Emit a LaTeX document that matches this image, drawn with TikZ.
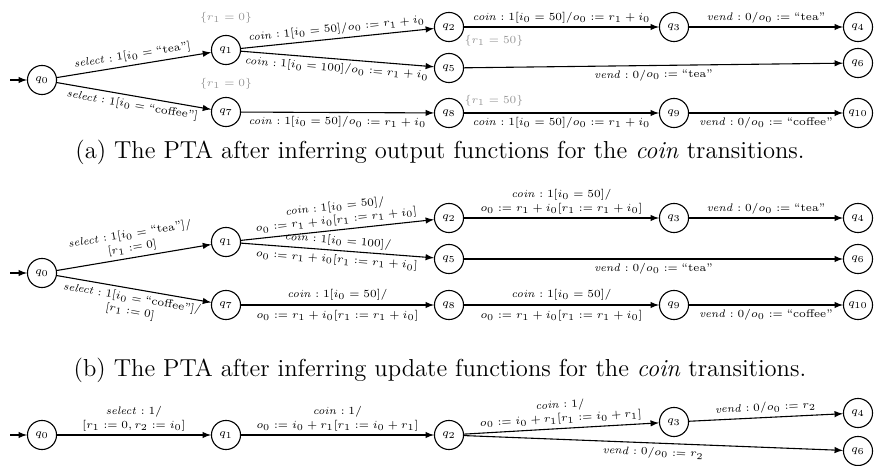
\documentclass[tikz,border=0pt]{standalone}
\usepackage{amsmath, amssymb}
\usepackage{tikz}
\usetikzlibrary{shapes, arrows, positioning}
\usepackage{xcolor}
\definecolor{mygray}{RGB}{150, 150, 150}

\tikzset{
  state/.style={draw, circle, semithick, minimum size=16pt, inner sep=0pt, font=\fontsize{6.3}{7.5}\selectfont},
  edge/.style={-latex, semithick},
  lbl/.style={font=\fontsize{6.1}{7.4}\selectfont, sloped, inner sep=2pt},
  note/.style={font=\fontsize{6.5}{7.5}\selectfont, text=mygray},
  captext/.style={font=\fontsize{13.5}{16}\selectfont}
}

\begin{document}
\begin{tikzpicture}[x=0.55pt, y=-0.55pt]
\useasboundingbox (0,0) rectangle (874,466);

% (a) output functions
\node[state] (a0) at (42,80) {$q_0$};
\node[state] (a1) at (226,50) {$q_1$};
\node[state] (a7) at (226,112) {$q_7$};
\node[state] (a2) at (449,27) {$q_2$};
\node[state] (a5) at (449,68) {$q_5$};
\node[state] (a8) at (449,113) {$q_8$};
\node[state] (a3) at (674,27) {$q_3$};
\node[state] (a9) at (674,113) {$q_9$};
\node[state] (a4) at (858,27) {$q_4$};
\node[state] (a6) at (858,63) {$q_6$};
\node[state] (a10) at (858,113) {$q_{10}$};
\coordinate (a0in) at (10,80);

\node[note] (n1) at (226,18) {$\{r_1=0\}$};
\node[note] (n7) at (226,84) {$\{r_1=0\}$};
\node[note] (n2) at (494,41) {$\{r_1=50\}$};
\node[note] (n8) at (494,101) {$\{r_1=50\}$};

\draw[edge] (a0in) -- (a0);
\draw[edge] (a0) -- node[lbl, above] {$\mathit{select}:1[i_0=\text{``tea''}]$} (a1);
\draw[edge] (a0) -- node[lbl, below] {$\mathit{select}:1[i_0=\text{``coffee''}]$} (a7);
\draw[edge] (a1) -- node[lbl, above] {$\mathit{coin}:1[i_0=50]/o_0:=r_1+i_0$} (a2);
\draw[edge] (a1) -- node[lbl, below] {$\mathit{coin}:1[i_0=100]/o_0:=r_1+i_0$} (a5);
\draw[edge] (a7) -- node[lbl, below] {$\mathit{coin}:1[i_0=50]/o_0:=r_1+i_0$} (a8);
\draw[edge] (a2) -- node[lbl, above] {$\mathit{coin}:1[i_0=50]/o_0:=r_1+i_0$} (a3);
\draw[edge] (a8) -- node[lbl, below] {$\mathit{coin}:1[i_0=50]/o_0:=r_1+i_0$} (a9);
\draw[edge] (a3) -- node[lbl, above] {$\mathit{vend}:0/o_0:=\text{``tea''}$} (a4);
\draw[edge] (a5) -- node[lbl, below] {$\mathit{vend}:0/o_0:=\text{``tea''}$} (a6);
\draw[edge] (a9) -- node[lbl, below] {$\mathit{vend}:0/o_0:=\text{``coffee''}$} (a10);

\node[captext] (capa) at (440,152) {(a) The PTA after inferring output functions for the \emph{coin} transitions.};

% (b) update functions
\node[state] (b0) at (42,273) {$q_0$};
\node[state] (b1) at (226,242) {$q_1$};
\node[state] (b7) at (226,305) {$q_7$};
\node[state] (b2) at (449,218) {$q_2$};
\node[state] (b5) at (449,259) {$q_5$};
\node[state] (b8) at (449,305) {$q_8$};
\node[state] (b3) at (674,218) {$q_3$};
\node[state] (b9) at (674,305) {$q_9$};
\node[state] (b4) at (858,218) {$q_4$};
\node[state] (b6) at (858,259) {$q_6$};
\node[state] (b10) at (858,305) {$q_{10}$};
\coordinate (b0in) at (10,273);

\draw[edge] (b0in) -- (b0);
\draw[edge] (b0) -- node[lbl, above, align=center] {$\mathit{select}:1[i_0=\text{``tea''}]/$\\$[r_1:=0]$} (b1);
\draw[edge] (b0) -- node[lbl, below, align=center] {$\mathit{select}:1[i_0=\text{``coffee''}]/$\\$[r_1:=0]$} (b7);
\draw[edge] (b1) -- node[lbl, above, align=center] {$\mathit{coin}:1[i_0=50]/$\\$o_0:=r_1+i_0[r_1:=r_1+i_0]$} (b2);
\draw[edge] (b1) -- node[lbl, align=center] {$\mathit{coin}:1[i_0=100]/$\\[3pt]$o_0:=r_1+i_0[r_1:=r_1+i_0]$} (b5);
\draw[edge] (b7) -- node[lbl, align=center] {$\mathit{coin}:1[i_0=50]/$\\[4pt]$o_0:=r_1+i_0[r_1:=r_1+i_0]$} (b8);
\draw[edge] (b2) -- node[lbl, above, align=center] {$\mathit{coin}:1[i_0=50]/$\\$o_0:=r_1+i_0[r_1:=r_1+i_0]$} (b3);
\draw[edge] (b8) -- node[lbl, align=center] {$\mathit{coin}:1[i_0=50]/$\\[4pt]$o_0:=r_1+i_0[r_1:=r_1+i_0]$} (b9);
\draw[edge] (b3) -- node[lbl, above] {$\mathit{vend}:0/o_0:=\text{``tea''}$} (b4);
\draw[edge] (b5) -- node[lbl, below] {$\mathit{vend}:0/o_0:=\text{``tea''}$} (b6);
\draw[edge] (b9) -- node[lbl, below] {$\mathit{vend}:0/o_0:=\text{``coffee''}$} (b10);

\node[captext] (capb) at (440,370) {(b) The PTA after inferring update functions for the \emph{coin} transitions.};

% (c) merged
\node[state] (c0) at (42,435) {$q_0$};
\node[state] (c1) at (226,435) {$q_1$};
\node[state] (c2) at (449,435) {$q_2$};
\node[state] (c3) at (674,422) {$q_3$};
\node[state] (c4) at (858,413) {$q_4$};
\node[state] (c6) at (858,451) {$q_6$};
\coordinate (c0in) at (10,435);

\draw[edge] (c0in) -- (c0);
\draw[edge] (c0) -- node[lbl, above, align=center] {$\mathit{select}:1/$\\$[r_1:=0,r_2:=i_0]$} (c1);
\draw[edge] (c1) -- node[lbl, above, align=center] {$\mathit{coin}:1/$\\$o_0:=i_0+r_1[r_1:=i_0+r_1]$} (c2);
\draw[edge] (c2) -- node[lbl, above, align=center] {$\mathit{coin}:1/$\\$o_0:=i_0+r_1[r_1:=i_0+r_1]$} (c3);
\draw[edge] (c3) -- node[lbl, above] {$\mathit{vend}:0/o_0:=r_2$} (c4);
\draw[edge] (c2) -- node[lbl, below] {$\mathit{vend}:0/o_0:=r_2$} (c6);
\end{tikzpicture}
\end{document}
